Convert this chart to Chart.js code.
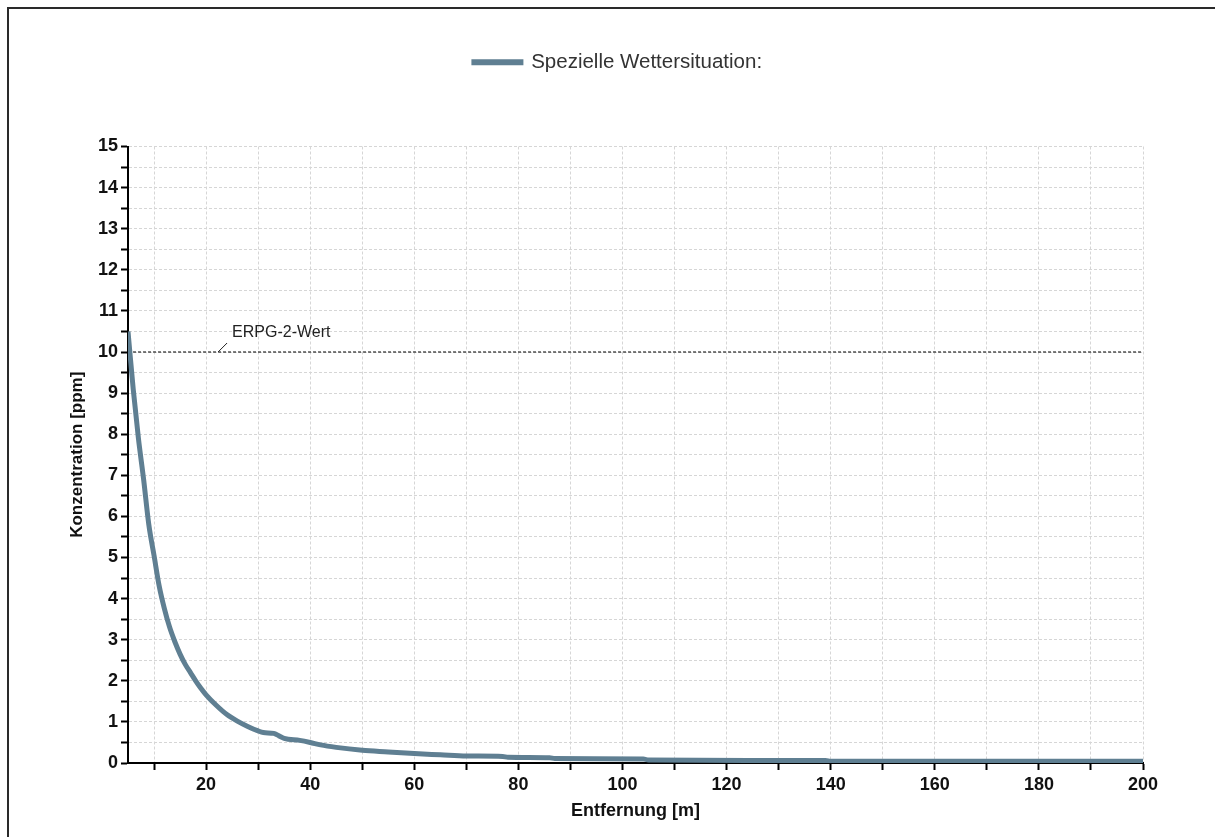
<!DOCTYPE html>
<html>
<head>
<meta charset="utf-8">
<script src="https://cdn.jsdelivr.net/npm/chart.js@4/dist/chart.umd.min.js"></script>
<style>
  html, body { margin: 0; padding: 0; background: #fff; overflow: hidden; }
  #wrap { position: absolute; left: 0; top: 0; width: 1215px; height: 837px; }
  #frame { position: absolute; left: 7px; top: 7px; width: 1300px; height: 900px;
           border-left: 2px solid #2a2a2a; border-top: 2px solid #2a2a2a; pointer-events: none; }
</style>
</head>
<body>
<div id="wrap"><canvas id="chart" width="1215" height="837"></canvas></div>
<div id="frame"></div>
<script>
// data
const distance = [5, 6, 7, 8, 9, 10, 11, 12, 13, 14, 15, 16, 17, 18, 19, 20, 22, 24, 26, 28, 30, 31, 33, 34, 35, 38, 40, 42, 45, 50, 55, 60, 65, 70, 77, 78, 86, 87, 104, 105, 139, 140, 200]
const concentration = [10.5, 9.1, 7.9, 6.9, 5.8, 5.05, 4.3, 3.75, 3.3, 2.95, 2.65, 2.4, 2.2, 2.0, 1.82, 1.66, 1.4, 1.18, 1.02, 0.89, 0.78, 0.74, 0.72, 0.66, 0.6, 0.55, 0.5, 0.44, 0.38, 0.31, 0.27, 0.23, 0.2, 0.17, 0.16, 0.14, 0.13, 0.11, 0.1, 0.07, 0.06, 0.04, 0.04]
const erpgX = [5, 200]
const erpgY = [10, 10]
const xTickValues = [10, 20, 30, 40, 50, 60, 70, 80, 90, 100, 110, 120, 130, 140, 150, 160, 170, 180, 190, 200]
const xTickLabels = ['', '20', '', '40', '', '60', '', '80', '', '100', '', '120', '', '140', '', '160', '', '180', '', '200']
const seriesName = 'Spezielle Wettersituation:'
const erpgLabel = 'ERPG-2-Wert'

const lineColor = '#5f7f92'
const font = 'Arial, "Liberation Sans", sans-serif'

const erpgLabelPlugin = {
    id: 'erpgLabel',
    afterLayout(chart) {
        // put the legend where the reference has it
        const lg = chart.legend
        const dx = 618 - (lg.left + lg.right) / 2
        lg.left += dx
        lg.right += dx
        const h = lg.bottom - lg.top
        lg.top = 42
        lg.bottom = 42 + h
    },
    afterDatasetsDraw(chart) {
        const ctx = chart.ctx
        const x = chart.scales.x.getPixelForValue(22.5)
        const y = chart.scales.y.getPixelForValue(erpgY[0])
        ctx.save()
        ctx.strokeStyle = '#222'
        ctx.lineWidth = 1
        ctx.beginPath()
        ctx.moveTo(x - 1, y)
        ctx.lineTo(x + 8, y - 9)
        ctx.stroke()
        ctx.fillStyle = '#222'
        ctx.font = '16px ' + font
        ctx.textBaseline = 'middle'
        ctx.fillText(erpgLabel, x + 13, y - 19)
        ctx.restore()
    }
}

const data = {
    datasets: [{
        label: seriesName,
        data: distance.map((d, i) => ({x: d, y: concentration[i]})),
        borderColor: lineColor,
        backgroundColor: lineColor,
        borderWidth: 5,
        pointRadius: 0,
        cubicInterpolationMode: 'monotone',
        borderCapStyle: 'butt'
    }, {
        label: 'ERPG',
        data: erpgX.map((d, i) => ({x: d, y: erpgY[i]})),
        borderColor: '#000',
        borderWidth: 1,
        borderDash: [3, 2],
        pointRadius: 0
    }]
}

const gridOpts = {
    color: '#d6d6d6',
    tickColor: '#000',
    tickLength: 7,
    tickWidth: 2,
    lineWidth: 1
}
const borderOpts = { display: true, color: '#000', width: 2, dash: [3, 2] }

const config = {
    type: 'line',
    data: data,
    plugins: [erpgLabelPlugin],
    options: {
        responsive: false,
        animation: false,
        layout: { padding: { left: 60, right: 72, top: 106, bottom: 14 } },
        plugins: {
            legend: {
                display: true,
                position: 'top',
                labels: {
                    filter: (item) => item.datasetIndex === 0,
                    boxWidth: 47,
                    boxHeight: 1,
                    padding: 10,
                    color: '#333',
                    font: { family: font, size: 20.5 }
                }
            },
            tooltip: { enabled: false }
        },
        scales: {
            x: {
                type: 'linear',
                min: 5,
                max: 200,
                grid: gridOpts,
                border: borderOpts,
                afterBuildTicks: (scale) => { scale.ticks = xTickValues.map(v => ({value: v})) },
                afterFit: (scale) => { scale.height = 60 },
                ticks: {
                    autoSkip: false,
                    maxRotation: 0,
                    padding: 4,
                    color: '#111',
                    font: { family: font, size: 18, weight: 'bold' },
                    callback: (v) => { const i = xTickValues.indexOf(v); return i >= 0 ? xTickLabels[i] : '' }
                },
                title: {
                    display: true,
                    text: 'Entfernung [m]',
                    color: '#111',
                    padding: { top: 4, bottom: 1 },
                    font: { family: font, size: 18, weight: 'bold' }
                }
            },
            y: {
                min: 0,
                max: 15,
                grid: gridOpts,
                border: borderOpts,
                afterFit: (scale) => { scale.width = 68 },
                ticks: {
                    stepSize: 0.5,
                    autoSkip: false,
                    padding: 3,
                    color: '#111',
                    font: { family: font, size: 18, weight: 'bold' },
                    callback: (v) => Number.isInteger(v) ? String(v) : ''
                },
                title: {
                    display: true,
                    text: 'Konzentration [ppm]',
                    color: '#111',
                    padding: { top: 7, bottom: 0 },
                    font: { family: font, size: 17, weight: 'bold' }
                }
            }
        }
    }
}

const result_chart = new Chart(document.getElementById('chart').getContext('2d'), config)
</script>
</body>
</html>
